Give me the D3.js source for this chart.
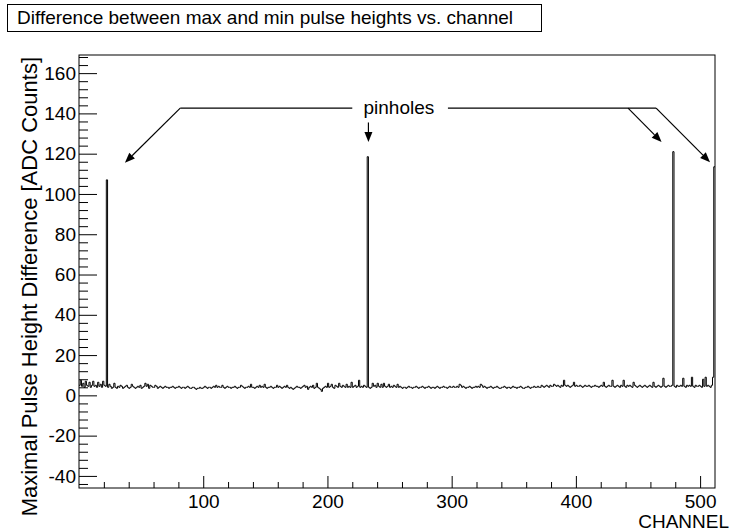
<!DOCTYPE html>
<html>
<head>
<meta charset="utf-8">
<script src="https://cdn.jsdelivr.net/npm/d3@7"></script>
<style>
  body { margin: 0; background: #fff; }
  svg { display: block; font-family: "Liberation Sans", Arial, Helvetica, sans-serif; }
</style>
</head>
<body>
<svg id="chart" width="730" height="531"></svg>
<script>
// max - min pulse height per channel (512 channels)
const pulseDiff = [
  5,7.5,4.5,6,4,7,5,4.5,6.5,4,5,7,4.5,5,4,6.5,
  4.5,5.5,4,7,5,4.5,107,4,5.5,4.5,3.5,4,6,4,3.5,4.5,
  4,5,4.5,3.5,4,4.5,5,4,3.5,4,5.5,4.5,4,3.5,4,4.5,
  4,5,3.5,4,4.5,6,4.5,5.5,3.5,5,4.5,4,4,5,4.5,3.5,
  4,4.5,4,3.5,4,4.5,4,4,3.5,4,4,4.5,4,3.5,4,4,
  4.5,4,3.5,4,4,3.5,4,4.5,4,3.5,3.5,4,4,3.5,3,3.5,
  3.5,4,3.5,3.5,4,4.5,4,3.5,4,4,3.5,4,4.5,4,5,4,
  4.5,4,4,5,4,3.5,4,4.5,4,4,3.5,4,4,4.5,4,3.5,
  4,4,5,4.5,4,3.5,4,4,4.5,4,5.5,4,4,3.5,4,4.5,
  4,5,4,4.5,4,5.5,4,3.5,4,4,4.5,4,3.5,4,4,5,
  4,4.5,4,3.5,4,4.5,4,5,4,3.5,4,3.5,3,3.5,4,4.5,
  4,4,3.5,4,4.5,5,4,4.5,3,4,4.5,4,5,3.5,4,6,
  4,3.5,3,2,3.5,4,4.5,4,6,4,4.5,5.5,4,3.5,5,4.5,
  4,6,4.5,4,5,4.5,4,5.5,4,4.5,4,6.5,4,4.5,5,4,
  4.5,7.5,4,4.5,4,5,4.5,4,118.5,4,3.5,4,6,4.5,5,4,
  6,4.5,4,5.5,4,6,4.5,4,4.5,5.5,4,4.5,4,5,4.5,4,
  5.5,4,4.5,4,3.5,4,4,3.5,4,4.5,4,4,3.5,4,4,4.5,
  4,3.5,4,4,4.5,4,3.5,4,4,4.5,4,3.5,4,4,3.5,4,
  4.5,4,3.5,4,4,4.5,4,4,3.5,4,4.5,4,4,4.5,4,4,
  4.5,4,5.5,5,4,4.5,4,3.5,4,4,4.5,4,3.5,4,4,4.5,
  4,4.5,4,5.5,5,4,4.5,4,3.5,4,4,4.5,4,3.5,4,4,
  4.5,4,3.5,3.5,4,4,4.5,4,3.5,4,4,3.5,4,4.5,4,4,
  3.5,4,4,4.5,4,3.5,3.5,4,4,4.5,4,3.5,4,4,4.5,4,
  4,4.5,4,4,5,4.5,4,4.5,5,4.5,4,5,4.5,4.5,5.5,5,
  4.5,5,4.5,4,5,4.5,7.5,5,4.5,5,4.5,4,4.5,5,6.5,4.5,
  5,4.5,4.5,5,4.5,4,4.5,5,4.5,4.5,5,4.5,4,4.5,4.5,5,
  4.5,4.5,4,4.5,5,4.5,6.5,4.5,4,4.5,5,4.5,4.5,7.5,4.5,4,
  4.5,5,4.5,4,5,4.5,7.5,4.5,4,5,4.5,5,4.5,4,6.5,5,
  4.5,4,4.5,5,4.5,4,4.5,5,4.5,4,4.5,5,4.5,4,6.5,4.5,
  4,4.5,5,4.5,4,4.5,8.5,4.5,4,4.5,5,4.5,4.5,5,121,4.5,
  4,5,4.5,4.5,5,4.5,8.5,4.5,4,5,4.5,5,4.5,9,4.5,4,
  5,4.5,4.5,5,4.5,4,8,4.5,9,4.5,5,4.5,4,5,9,113.5
];

const xRange = [0, 512];
const yRange = [-46, 169];
const xMajorTicks = [100, 200, 300, 400, 500];
const yMajorTicks = [-40, -20, 0, 20, 40, 60, 80, 100, 120, 140, 160];
const xMinorStep = 20;
const yMinorStep = 4;

const titleText = "Difference between max and min pulse heights vs. channel";
const xTitle = "CHANNEL";
const yTitle = "Maximal Pulse Height Difference [ADC Counts]";

// annotation, in data units (channel, ADC counts)
const labelText = "pinholes";
const labelPos = [257.5, 139.5];
const leftBar = [[220, 142.6], [81.5, 142.6]];
const rightBar = [[297, 142.6], [464.6, 142.6]];
const arrows = [
  [[81.5, 142.6], [37, 115.5]],
  [[233, 135.5], [233, 125.8]],
  [[442, 142.6], [469, 125.8]],
  [[464.6, 142.6], [508, 115.8]]
];

const svg = d3.select('#chart');
const fontSize = 19;

const frame = {left: 79, right: 715, top: 55, bottom: 488};

const x = d3.scaleLinear().domain(xRange).range([frame.left, frame.right]);
const y = d3.scaleLinear().domain(yRange).range([frame.bottom, frame.top]);

// title box
const titleG = svg.append('g');
titleG.append('rect')
    .attr('x', 7.5).attr('y', 4.5)
    .attr('width', 534).attr('height', 27)
    .attr('fill', 'none').attr('stroke', '#000').attr('stroke-width', 1);
titleG.append('text')
    .attr('x', 17).attr('y', 24)
    .attr('font-size', fontSize)
    .text(titleText);

// histogram
const steps = pulseDiff.map((v, i) => [i, v]);
steps.push([pulseDiff.length, pulseDiff[pulseDiff.length - 1]]);
const line = d3.line()
    .x(d => x(d[0]))
    .y(d => y(d[1]))
    .curve(d3.curveStepAfter);

svg.append('path')
    .datum(steps)
    .attr('d', line)
    .attr('fill', 'none')
    .attr('stroke', '#000')
    .attr('stroke-width', 1);

// axes (ticks point into the frame, like ROOT)
const yMinor = d3.range(Math.ceil(yRange[0] / yMinorStep) * yMinorStep, yRange[1], yMinorStep)
    .filter(v => !yMajorTicks.includes(v));
const xMinor = d3.range(xMinorStep, xRange[1], xMinorStep)
    .filter(v => !xMajorTicks.includes(v));

const plainNum = d => String(d);

const yAxisG = svg.append('g').attr('transform', `translate(${frame.left},0)`);
yAxisG.call(d3.axisLeft(y).tickValues(yMinor).tickSize(-9).tickFormat(''));
yAxisG.append('g').call(d3.axisLeft(y).tickValues(yMajorTicks).tickSize(-18).tickPadding(3).tickFormat(plainNum));

const xAxisG = svg.append('g').attr('transform', `translate(0,${frame.bottom})`);
xAxisG.call(d3.axisBottom(x).tickValues(xMinor).tickSize(-6).tickFormat(''));
xAxisG.append('g').call(d3.axisBottom(x).tickValues(xMajorTicks).tickSize(-12).tickPadding(7).tickFormat(plainNum));

svg.selectAll('.domain').remove();
svg.selectAll('.tick line').attr('stroke', '#000');
svg.selectAll('.tick text')
    .attr('font-size', fontSize)
    .attr('font-family', '"Liberation Sans", Arial, Helvetica, sans-serif')
    .attr('fill', '#000');

// frame
svg.append('rect')
    .attr('x', frame.left).attr('y', frame.top)
    .attr('width', frame.right - frame.left)
    .attr('height', frame.bottom - frame.top)
    .attr('fill', 'none').attr('stroke', '#000').attr('stroke-width', 1);

// axis titles
svg.append('text')
    .attr('x', 729).attr('y', 528)
    .attr('text-anchor', 'end')
    .attr('font-size', fontSize)
    .text(xTitle);

svg.append('text')
    .attr('transform', `translate(37,${frame.top + 2}) rotate(-90)`)
    .attr('text-anchor', 'end')
    .attr('font-size', 22)
    .text(yTitle);

// pinholes annotation
svg.append('text')
    .attr('x', x(labelPos[0])).attr('y', y(labelPos[1]))
    .attr('text-anchor', 'middle')
    .attr('font-size', fontSize)
    .text(labelText);

[leftBar, rightBar].forEach(seg => {
  svg.append('line')
      .attr('x1', x(seg[0][0])).attr('y1', y(seg[0][1]))
      .attr('x2', x(seg[1][0])).attr('y2', y(seg[1][1]))
      .attr('stroke', '#000').attr('stroke-width', 1.2);
});

const headLen = 10, headHalf = 4;
arrows.forEach(([from, to]) => {
  const x1 = x(from[0]), y1 = y(from[1]), x2 = x(to[0]), y2 = y(to[1]);
  const ang = Math.atan2(y2 - y1, x2 - x1);
  const bx = x2 - headLen * Math.cos(ang), by = y2 - headLen * Math.sin(ang);
  svg.append('line')
      .attr('x1', x1).attr('y1', y1).attr('x2', bx).attr('y2', by)
      .attr('stroke', '#000').attr('stroke-width', 1.2);
  const px = -Math.sin(ang) * headHalf, py = Math.cos(ang) * headHalf;
  svg.append('path')
      .attr('d', `M${x2},${y2}L${bx + px},${by + py}L${bx - px},${by - py}Z`)
      .attr('fill', '#000');
});
</script>
</body>
</html>
